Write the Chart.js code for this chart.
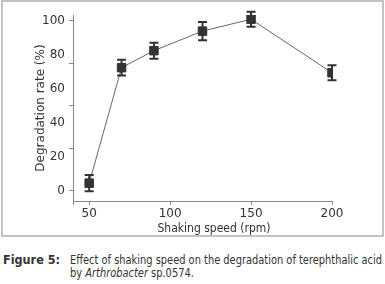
<!DOCTYPE html>
<html>
<head>
<meta charset="utf-8">
<script src="https://cdn.jsdelivr.net/npm/chart.js@4.4.1/dist/chart.umd.min.js"></script>
<style>
  body { margin: 0; background: #fff; width: 385px; height: 284px; overflow: hidden;
         font-family: "Liberation Sans Narrow", "DejaVu Sans", sans-serif; font-stretch: condensed; color: #333; }
  #box { position: absolute; left: 1px; top: 0; width: 383px; height: 237px;
         box-sizing: border-box; border: 2px solid #c4c4c4; }
  #wrap { position: absolute; left: 0; top: 0; width: 385px; height: 240px; }
  #cap { position: absolute; left: 3px; top: 253px; font-size: 12.5px; line-height: 13px; white-space: nowrap; }
  #cap b { position: absolute; left: 0; top: 0; }
  #capText { position: absolute; left: 67px; top: 0; transform-origin: 0 0; }
</style>
</head>
<body>
<div id="box"></div>
<div id="wrap"><canvas id="c" width="385" height="240"></canvas></div>
<div id="cap"><b>Figure 5:</b><div id="capText">Effect of shaking speed on the degradation of terephthalic acid<br>by <i>Arthrobacter</i> sp.0574.</div></div>
<script>
// shaking speed (rpm) vs degradation rate (%)
const speeds = [50, 70, 90, 120, 150, 200];
const rates = [4.5, 72.5, 82.5, 94, 101, 69.5];
const errs = [4.8, 4.6, 4.7, 5.4, 4.4, 4.4];

const xTicks = [40, 50, 100, 150, 200];
const yLabels = [0, 20, 40, 60, 80, 100];
const yMarks = [0, 25, 50, 75, 100];

const fam = '"Liberation Sans Narrow", "DejaVu Sans", sans-serif';
const fontTxt = { family: fam, size: 12, style: 'condensed' };

// squeeze the caption so its lines break like the original
const capText = document.getElementById('capText');
const w = capText.getBoundingClientRect().width;
if (w > 312) capText.style.transform = 'scaleX(' + (312 / w) + ')';

const errorBars = {
  id: 'errorBars',
  afterDatasetsDraw(chart) {
    const ctx = chart.ctx, xs = chart.scales.x, ys = chart.scales.y;
    ctx.save();
    ctx.strokeStyle = '#333';
    ctx.lineWidth = 2;
    speeds.forEach((s, i) => {
      const x = xs.getPixelForValue(s);
      const y1 = ys.getPixelForValue(rates[i] + errs[i]);
      const y2 = ys.getPixelForValue(rates[i] - errs[i]);
      ctx.beginPath();
      ctx.moveTo(x, y1); ctx.lineTo(x, y2);
      ctx.moveTo(x - 4.5, y1); ctx.lineTo(x + 4.5, y1);
      ctx.moveTo(x - 4.5, y2); ctx.lineTo(x + 4.5, y2);
      ctx.stroke();
    });
    ctx.restore();
  }
};

// x axis title sits a bit right of the axis centre in the original
const xTitle = {
  id: 'xTitle',
  afterDraw(chart) {
    const ctx = chart.ctx;
    ctx.save();
    ctx.font = 'condensed 12px ' + fam;
    ctx.fillStyle = '#333';
    ctx.textAlign = 'center';
    ctx.textBaseline = 'middle';
    ctx.fillText('Shaking speed (rpm)', 214, 229);
    ctx.restore();
  }
};

new Chart(document.getElementById('c'), {
  type: 'line',
  data: {
    datasets: [{
      data: speeds.map((s, i) => ({ x: s, y: rates[i] })),
      borderColor: '#666',
      borderWidth: 1,
      pointStyle: 'rect',
      radius: 6,
      pointBackgroundColor: '#333',
      pointBorderColor: '#333',
      pointBorderWidth: 1,
      tension: 0
    }]
  },
  options: {
    responsive: false,
    animation: false,
    layout: { padding: { top: 15, right: 53, left: 0, bottom: 0 } },
    plugins: { legend: { display: false }, tooltip: { enabled: false } },
    scales: {
      x: {
        type: 'linear',
        min: 40, max: 200,
        afterBuildTicks: s => { s.ticks = xTicks.map(v => ({ value: v })); },
        afterFit: s => { s.height = 39; },
        ticks: {
          autoSkip: false, maxRotation: 0, padding: 2,
          color: '#333', font: fontTxt,
          callback: v => (v === 40 ? '' : v)
        },
        grid: { drawOnChartArea: false, tickLength: 4, color: '#888' },
        border: { color: '#888', width: 1 }
      },
      y: {
        min: -6, max: 103.5,
        afterBuildTicks: s => {
          const vals = [...new Set([...yLabels, ...yMarks])].sort((a, b) => a - b);
          s.ticks = vals.map(v => ({ value: v }));
        },
        afterFit: s => { s.width = 73; },
        ticks: {
          autoSkip: false, padding: 4,
          color: '#333', font: fontTxt,
          callback: v => (yLabels.includes(v) ? v : '')
        },
        grid: {
          drawOnChartArea: false, tickLength: 4,
          tickColor: c => (yMarks.includes(c.tick.value) ? '#888' : 'rgba(0,0,0,0)')
        },
        border: { color: '#888', width: 1 },
        title: { display: true, text: 'Degradation rate (%)', color: '#333', font: fontTxt, padding: { top: 34, bottom: 0 } }
      }
    }
  },
  plugins: [errorBars, xTitle]
});
</script>
</body>
</html>
